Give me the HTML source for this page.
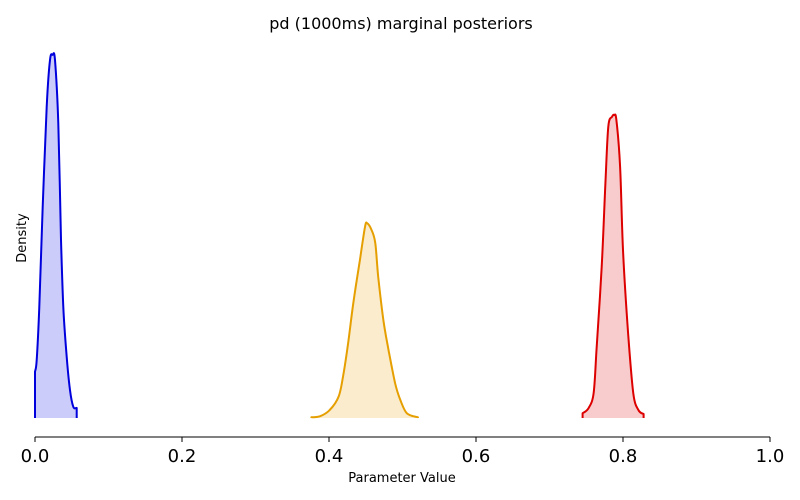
<!DOCTYPE html>
<html><head><meta charset="utf-8"><style>
body{margin:0;background:#fff;}
svg{display:block;font-family:"DejaVu Sans","Liberation Sans",sans-serif;}
</style></head><body>
<svg id="chart" width="800" height="500" viewBox="0 0 800 500">
<rect width="800" height="500" fill="#fff"/>
<text x="401" y="29" font-size="16" text-anchor="middle" fill="#000">pd (1000ms) marginal posteriors</text>
<g id="plot"></g>
<line x1="35" y1="437" x2="770" y2="437" stroke="#000" stroke-width="1"/>
<g id="xticks"></g>
<text x="402" y="482" font-size="13" text-anchor="middle">Parameter Value</text>
<text transform="translate(26,238) rotate(-90)" font-size="13" text-anchor="middle">Density</text>
</svg>
<script>
const tickValues = [0, 0.2, 0.4, 0.6, 0.8, 1.0];
const tickLabels = ["0.0", "0.2", "0.4", "0.6", "0.8", "1.0"];
const blueX = [0, .0023, .0058, .0105, .0159, .0204, .0240, .0272, .0317, .0354, .0385, .0431, .0476, .0521, .0567];
const blueD = [12.8, 16, 30.7, 58.4, 86, 98.9, 100.3, 98.9, 81.4, 49.2, 30.7, 16.9, 7.7, 3.1, 2.8];
const orangeX = [.376, .388, .401, .413, .419, .426, .433, .442, .449, .452, .458, .463, .467, .474, .481, .490, .497, .506, .521];
const orangeD = [.2, .5, 2.2, 5.9, 11.4, 20.6, 31.7, 43.6, 52.8, 53.8, 51.9, 48.3, 39, 27, 18.8, 9.6, 5, 1.3, .2];
const redX = [.745, .753, .760, .764, .771, .776, .780, .785, .788, .791, .796, .800, .807, .814, .821, .828];
const redD = [1.3, 2.7, 6.8, 18.8, 41.8, 64.8, 80.5, 83.2, 83.7, 82.3, 69.4, 46.4, 23.4, 6.8, 2.2, 1.1];

const NS = "http://www.w3.org/2000/svg";
const xS = v => 35 + v * 735;
const yS = d => 418 - d * 3.62;

function smooth(pts) {
  let d = '';
  for (let i = 0; i < pts.length - 1; i++) {
    const p0 = pts[Math.max(0, i - 1)], p1 = pts[i], p2 = pts[i + 1], p3 = pts[Math.min(pts.length - 1, i + 2)];
    const c1x = p1[0] + (p2[0] - p0[0]) / 6, c1y = p1[1] + (p2[1] - p0[1]) / 6;
    const c2x = p2[0] - (p3[0] - p1[0]) / 6, c2y = p2[1] - (p3[1] - p1[1]) / 6;
    d += ' C' + c1x.toFixed(1) + ',' + c1y.toFixed(1) + ' ' + c2x.toFixed(1) + ',' + c2y.toFixed(1) + ' ' + p2[0].toFixed(1) + ',' + p2[1].toFixed(1);
  }
  return d;
}

function curve(xs, ds, stroke, fill, name) {
  const g = document.getElementById('plot');
  const pts = xs.map((x, i) => [xS(x), yS(ds[i])]);
  const x0 = pts[0][0].toFixed(1), x1 = pts[pts.length - 1][0].toFixed(1);
  const body = 'M' + x0 + ',418 L' + pts[0][0].toFixed(1) + ',' + pts[0][1].toFixed(1) + smooth(pts) + ' L' + x1 + ',418';
  const area = document.createElementNS(NS, 'path');
  area.setAttribute('d', body + ' Z');
  area.setAttribute('fill', fill);
  
  
  g.appendChild(area);
  const p = document.createElementNS(NS, 'path');
  p.setAttribute('d', body);
  p.setAttribute('fill', 'none');
  p.setAttribute('stroke', stroke);
  p.setAttribute('stroke-width', '2');
  p.setAttribute('stroke-linejoin', 'round');
  
  
  g.appendChild(p);
}
curve(blueX, blueD, '#0000dd', 'rgba(0,0,230,0.2)', 'blue-posterior');
curve(orangeX, orangeD, '#e69f00', 'rgba(230,159,0,0.2)', 'orange-posterior');
curve(redX, redD, '#dd0000', 'rgba(221,0,0,0.2)', 'red-posterior');

const tg = document.getElementById('xticks');
tickValues.forEach((v, i) => {
  const l = document.createElementNS(NS, 'line');
  l.setAttribute('x1', xS(v)); l.setAttribute('x2', xS(v));
  l.setAttribute('y1', 437); l.setAttribute('y2', 442);
  l.setAttribute('stroke', '#000');
  
  
  tg.appendChild(l);
  const t = document.createElementNS(NS, 'text');
  t.setAttribute('x', xS(v)); t.setAttribute('y', 462);
  t.setAttribute('font-size', '18');
  t.setAttribute('text-anchor', 'middle');
  t.textContent = tickLabels[i];
  
  
  tg.appendChild(t);
});
</script>
</body></html>
